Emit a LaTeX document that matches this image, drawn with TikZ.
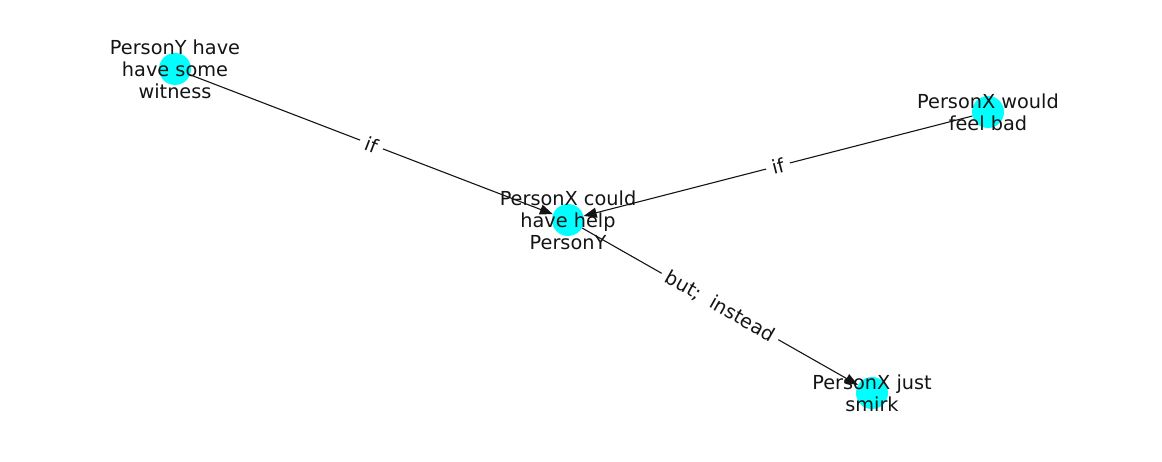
\documentclass[tikz,border=0pt]{standalone}
\usepackage{fontspec}
\setmainfont{DejaVu Sans}
\usetikzlibrary{arrows.meta}

\definecolor{aqua}{RGB}{0,255,255}

\tikzset{
  vertex/.style={circle, fill=aqua, inner sep=0pt, minimum size=32pt},
  vlabel/.style={align=center, text=black!92, font=\fontsize{19.3}{22}\selectfont},
  edge/.style={draw=black!92, line width=1.1pt, -{Triangle[length=13pt,width=10pt]}},
  elabel/.style={sloped, fill=white, inner sep=6pt, text=black!92,
    font=\fontsize{19.3}{22}\selectfont}
}

\begin{document}
\begin{tikzpicture}[x=1pt, y=-1pt]
\useasboundingbox (0,0) rectangle (1162,462);

% vertices
\node[vertex] (witness) at (175,69) {};
\node[vertex] (help)    at (568,220) {};
\node[vertex] (bad)     at (988,112) {};
\node[vertex] (smirk)   at (872,393) {};

\node[vlabel] (witnessT) at (witness) {PersonY have\\have some\\witness};
\node[vlabel] (helpT)    at (help)    {PersonX could\\have help\\PersonY};
\node[vlabel] (badT)     at (bad)     {PersonX would\\feel bad};
\node[vlabel] (smirkT)   at (smirk)   {PersonX just\\smirk};

% edges
\draw[edge] (witness) -- node[elabel] {if} (help);
\draw[edge] (bad) -- node[elabel] {if} (help);
\draw[edge] (help) -- node[elabel] {but;\ \ instead} (smirk);

\end{tikzpicture}
\end{document}
